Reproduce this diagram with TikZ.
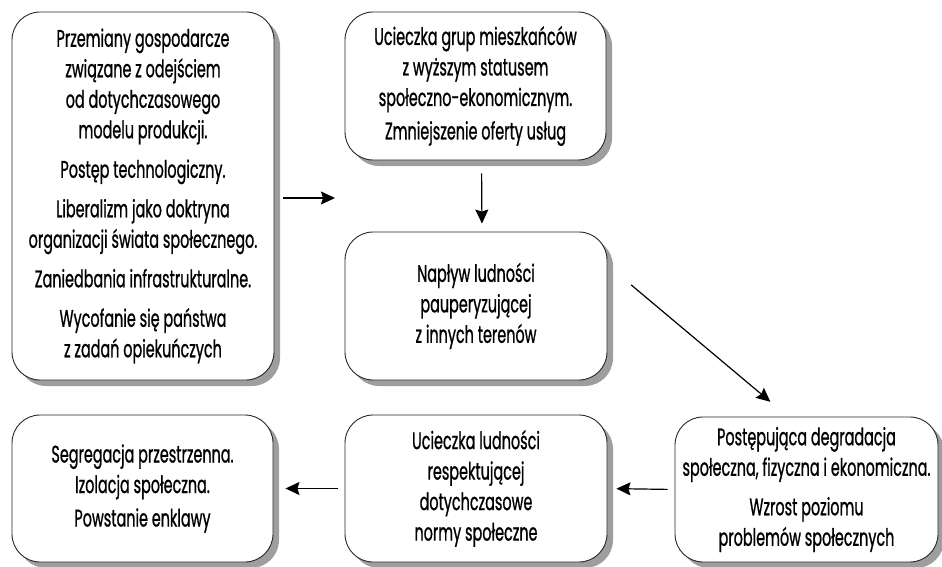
\documentclass[tikz,border=0pt]{standalone}
\usepackage{fontspec}
\setmainfont{Poppins}[FakeStretch=0.6,FakeBold=0.8]
\usetikzlibrary{arrows.meta,shadows}
\begin{document}
\begin{tikzpicture}[x=1pt,y=-1pt,
  card/.style={draw=black!85, line width=0.9pt, fill=white, rounded corners=28pt,
    inner sep=0pt, align=center, font=\fontsize{24}{30.5}\selectfont,
    drop shadow={shadow xshift=6pt, shadow yshift=-6pt, fill=black!38, opacity=1}},
  link/.style={-{Stealth[length=14pt,width=13pt,inset=2pt]}, line width=1.2pt}]
\useasboundingbox (0,0) rectangle (942,567);

% top-left: causes
\node[card, minimum width=262pt, minimum height=368pt] (causes) at (143,196)
  {Przemiany gospodarcze\\ związane z odejściem\\ od dotychczasowego\\ modelu produkcji.\\[9pt]
   Postęp technologiczny.\\[9pt]
   Liberalizm jako doktryna\\ organizacji świata społecznego.\\[9pt]
   Zaniedbania infrastrukturalne.\\[9pt]
   Wycofanie się państwa\\ z zadań opiekuńczych};

\node[card, minimum width=261pt, minimum height=148pt] (flight) at (475.5,86)
  {Ucieczka grup mieszkańców\\ z wyższym statusem\\ społeczno-ekonomicznym.\\[3pt]
   Zmniejszenie oferty usług};

\node[card, minimum width=262pt, minimum height=148pt] (influx) at (476,306)
  {Napływ ludności\\ pauperyzującej\\ z innych terenów};

\node[card, minimum width=261pt, minimum height=147pt] (segr) at (142.5,488.5)
  {Segregacja przestrzenna.\\ Izolacja społeczna.\\[3pt] Powstanie enklawy};

\node[card, minimum width=262pt, minimum height=147pt] (exodus) at (476,488.5)
  {Ucieczka ludności\\ respektującej\\ dotychczasowe\\ normy społeczne};

\node[card, minimum width=263pt, minimum height=145pt] (degr) at (806.5,489.5)
  {Postępująca degradacja\\ społeczna, fizyczna i ekonomiczna.\\[9pt]
   Wzrost poziomu\\ problemów społecznych};

% connectors
\coordinate (gap) at (345,198);
\draw[link, shorten <=9pt, shorten >=10pt] (causes.east |- gap) -- (gap);
\draw[link, shorten <=13pt, shorten >=8pt] ([xshift=6pt]flight.south) -- ([xshift=6pt]influx.north);
\draw[link, shorten <=31pt, shorten >=23pt] ([yshift=41pt]influx.east) -- ([xshift=-18.5pt]degr.north);
\draw[link, shorten <=7pt, shorten >=9pt] (degr.west) -- (exodus.east);
\draw[link, shorten <=7pt, shorten >=12pt] (exodus.west) -- (segr.east);
\end{tikzpicture}
\end{document}
